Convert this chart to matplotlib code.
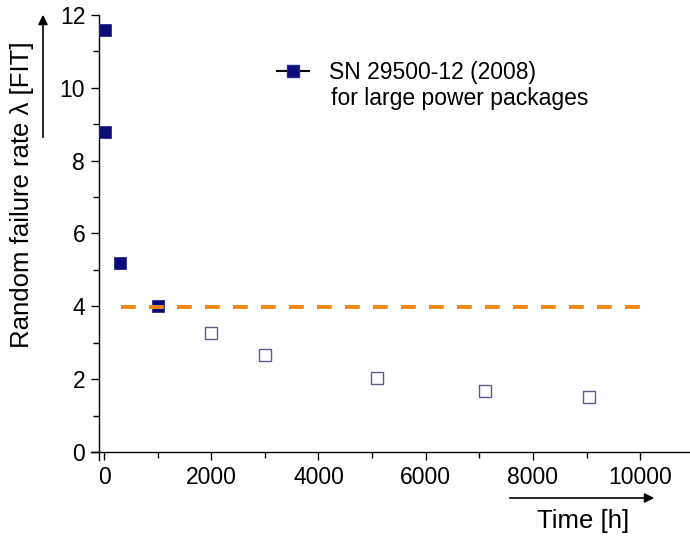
import numpy as np
import matplotlib
matplotlib.use('Agg')
import matplotlib.pyplot as plt
from matplotlib.lines import Line2D

plt.rcParams['font.family'] = ['Liberation Sans', 'DejaVu Sans']

# SN 29500-12 values (filled) and extrapolated values (open)
t_sn = [20, 20, 300, 1000]
rate_sn = [11.6, 8.8, 5.2, 4.0]
t_open = [2000, 3000, 5100, 7100, 9050]
rate_open = [3.28, 2.66, 2.04, 1.68, 1.50]
t_const = [310, 10100]
rate_const = [3.98, 3.98]

navy = '#0b0b7a'
orange = '#f5890c'

fig = plt.figure(figsize=(6.9, 5.36), dpi=100)
ax = fig.add_axes([90.5/690, 1 - 460/536, 1 - 90.5/690, (460 - 15)/536])

ax.plot(t_sn, rate_sn, 's', color=navy, mec='#2a2a90', mew=0.6, ms=8.5, zorder=3)
ax.plot(t_open, rate_open, 's', mfc='white', mec='#5c5c8c', mew=1.0, ms=8, zorder=3)
ax.plot(t_const, rate_const, color=orange, lw=2.8,
        linestyle=(0, (3.8, 3.4)), dash_capstyle='butt', zorder=4)

ax.set_xlim(-252, 10930)
ax.set_ylim(-0.22, 12)
ax.spines['left'].set_position(('data', -93))
ax.spines['bottom'].set_position(('data', 0))
ax.spines['top'].set_visible(False)
ax.spines['right'].set_visible(False)
ax.spines['left'].set_bounds(-0.22, 12)
for s in ['left', 'bottom']:
    ax.spines[s].set_linewidth(1.0)

ax.set_xticks(np.arange(0, 10001, 2000))
ax.set_xticks(np.arange(1000, 10001, 2000), minor=True)
ax.set_yticks(np.arange(0, 13, 2))
ax.set_yticks(np.arange(1, 12, 2), minor=True)
ax.tick_params(which='major', length=6, width=1.0, labelsize=16.5, direction='out', pad=4)
ax.tick_params(which='minor', length=4, width=1.0, direction='out')

# axis labels with arrows
fig.text(22/690, 1 - 195/536, 'Random failure rate \u03bb [FIT]', rotation=90,
         ha='center', va='center', fontsize=18.5)
fig.add_artist(matplotlib.patches.FancyArrowPatch(
    (43/690, 1 - 140/536), (43/690, 1 - 12/536), transform=fig.transFigure,
    arrowstyle='-|>', mutation_scale=14, lw=1.2, color='black'))
fig.text(583/690, 1 - 521/536, 'Time [h]', ha='center', va='center', fontsize=18.5)
fig.add_artist(matplotlib.patches.FancyArrowPatch(
    (507/690, 1 - 498/536), (657/690, 1 - 498/536), transform=fig.transFigure,
    arrowstyle='-|>', mutation_scale=14, lw=1.2, color='black'))

handle = Line2D([], [], color='black', lw=1.5, marker='s', ms=8,
                mfc=navy, mec='#2a2a90')
ax.legend([handle], ['SN 29500-12 (2008)'], loc='center left',
          bbox_to_anchor=(277/690, 1 - 73/536), bbox_transform=fig.transFigure,
          frameon=False, fontsize=16.5, handlelength=1.4, handletextpad=0.85,
          borderpad=0, borderaxespad=0)
fig.text(331/690, 1 - 98/536, 'for large power packages', ha='left', va='center',
         fontsize=16.5)

fig.savefig('out.png', dpi=100)
